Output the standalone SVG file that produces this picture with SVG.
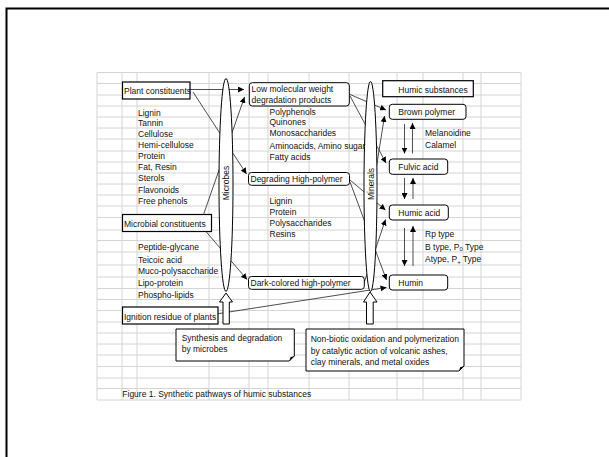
<svg xmlns="http://www.w3.org/2000/svg" width="609" height="457" viewBox="0 0 609 457">
<defs>
<marker id="ah" markerUnits="userSpaceOnUse" markerWidth="7" markerHeight="6" refX="6" refY="3" orient="auto"><path d="M0,0 L6,3 L0,6 z" fill="#000"/></marker>
<style>
.g{stroke:#d4d4d4;stroke-width:1;fill:none}
.t{font-family:"Liberation Sans",Arial,sans-serif;font-size:8.5px;fill:#111}
.c{stroke:#222;stroke-width:0.8;fill:none;marker-end:url(#ah)}
.b{fill:#fff;stroke:#000;stroke-width:1.2}
.r{fill:#fff;stroke:#000;stroke-width:1}
.e{fill:#fff;stroke:#000;stroke-width:1}
</style>
</defs>
<rect x="0" y="0" width="609" height="457" fill="#fff"/>
<rect x="6.5" y="8.5" width="640" height="480" fill="none" stroke="#000" stroke-width="2"/>
<g id="grid" class="g">
<path d="M97,72.5V400M122,72.5V400M137,72.5V400M209,72.5V400M249,72.5V400M268,72.5V400M309,72.5V400M349,72.5V400M397,72.5V400M423,72.5V400M463,72.5V400M481,72.5V400M521,72.5V400"/>
<path d="M97,72.5H521M97,83.5H521M97,95H521M97,106H521M97,117H521M97,128H521M97,139H521M97,151H521M97,162H521M97,173H521M97,184H521M97,195H521M97,206H521M97,217.5H521M97,230H521M97,240.5H521M97,252H521M97,265H521M97,277H521M97,288.5H521M97,299.5H521M97,310.5H521M97,322H521M97,333H521M97,344H521M97,355H521M97,366.5H521M97,378H521M97,388.5H521M97,400H521"/>
</g>
<g id="connectors">
<line class="c" x1="190" y1="89.5" x2="244" y2="89.5"/>
<line class="c" x1="193" y1="92" x2="246.5" y2="174"/>
<line class="c" x1="203" y1="216" x2="244.5" y2="97"/>
<line class="c" x1="203" y1="228" x2="247" y2="279.5"/>
<line class="c" x1="349" y1="94" x2="386" y2="110"/>
<line class="c" x1="350" y1="96" x2="386" y2="163"/>
<line class="c" x1="368" y1="220" x2="384.5" y2="116"/>
<line class="c" x1="350" y1="180" x2="385.5" y2="210"/>
<line class="c" x1="350" y1="182" x2="386.5" y2="280"/>
<line class="c" x1="364" y1="283" x2="385.5" y2="219.5"/>
<line class="c" x1="200" y1="316.5" x2="386.5" y2="287.5"/>
<line class="c" x1="404.5" y1="124" x2="404.5" y2="153.5"/>
<line class="c" x1="412.5" y1="153.5" x2="412.5" y2="123"/>
<line class="c" x1="404.5" y1="178" x2="404.5" y2="199"/>
<line class="c" x1="413" y1="199" x2="413" y2="178"/>
<line class="c" x1="404.5" y1="228" x2="404.5" y2="266"/>
<line class="c" x1="413" y1="266" x2="413" y2="226"/>
</g>
<g id="microbes">
<ellipse class="e" cx="226" cy="185" rx="7" ry="106.5"/>
<text class="t" transform="translate(229,183) rotate(-90)" text-anchor="middle">Microbes</text>
<path class="r" d="M226,293 L232.5,302 H229.3 V324 H223 V302 H219.5 Z"/>
</g>
<g id="minerals">
<ellipse class="e" cx="370.5" cy="186.5" rx="6.5" ry="105"/>
<text class="t" transform="translate(373.5,184) rotate(-90)" text-anchor="middle">Minerals</text>
<path class="r" d="M370,292 L377,302 H373.2 V324 H366.5 V302 H363.5 Z"/>
</g>
<g id="plant">
<rect class="b" x="122.5" y="82" width="67.5" height="17"/>
<text class="t" x="124" y="93.5">Plant constituents</text>
<text class="t" x="138" y="115.7">Lignin</text>
<text class="t" x="138" y="125.7">Tannin</text>
<text class="t" x="138" y="136.5">Cellulose</text>
<text class="t" x="138" y="148">Hemi-cellulose</text>
<text class="t" x="138" y="159">Protein</text>
<text class="t" x="138" y="170.3">Fat, Resin</text>
<text class="t" x="138" y="181.3">Sterols</text>
<text class="t" x="138" y="193">Flavonoids</text>
<text class="t" x="138" y="204">Free phenols</text>
</g>
<g id="microbial">
<rect class="b" x="122.5" y="214.5" width="89" height="17"/>
<text class="t" x="124" y="226.5">Microbial constituents</text>
<text class="t" x="138" y="249.5">Peptide-glycane</text>
<text class="t" x="138" y="263">Teicoic acid</text>
<text class="t" x="138" y="274">Muco-polysaccharide</text>
<text class="t" x="138" y="286">Lipo-protein</text>
<text class="t" x="138" y="298">Phospho-lipids</text>
</g>
<g id="ignition">
<rect class="b" x="122.5" y="307" width="95.5" height="17"/>
<text class="t" x="124" y="319.5">Ignition residue of plants</text>
</g>
<g id="low">
<rect class="r" x="249.3" y="82.7" width="100" height="23.3" rx="3"/>
<text class="t" x="251.5" y="92">Low molecular weight</text>
<text class="t" x="251.5" y="103.3">degradation products</text>
<text class="t" x="269.5" y="114.5">Polyphenols</text>
<text class="t" x="269.5" y="125.2">Quinones</text>
<text class="t" x="269.5" y="136.2">Monosaccharides</text>
<text class="t" x="269.5" y="148.5">Aminoacids, Amino sugar</text>
<text class="t" x="269.5" y="159.5">Fatty acids</text>
</g>
<g id="degrading">
<rect class="r" x="248.5" y="172.5" width="101" height="12.8" rx="3"/>
<text class="t" x="250.5" y="182">Degrading High-polymer</text>
<text class="t" x="269.5" y="204">Lignin</text>
<text class="t" x="269.5" y="215">Protein</text>
<text class="t" x="269.5" y="226.3">Polysaccharides</text>
<text class="t" x="269.5" y="237.3">Resins</text>
</g>
<g id="dark">
<rect class="r" x="248.5" y="276.5" width="115.8" height="12.8" rx="3"/>
<text class="t" x="250.5" y="286">Dark-colored high-polymer</text>
</g>
<g id="humic-substances">
<rect class="b" x="382.7" y="80.7" width="90.6" height="16"/>
<text class="t" x="398.3" y="92.8">Humic substances</text>
</g>
<g id="brown">
<rect class="r" x="389.3" y="104.3" width="76.7" height="15" rx="3"/>
<text class="t" x="398.3" y="115">Brown polymer</text>
<text class="t" x="425" y="136">Melanoidine</text>
<text class="t" x="425" y="148">Calamel</text>
</g>
<g id="fulvic">
<rect class="r" x="389.3" y="159" width="58.4" height="15.3" rx="3"/>
<text class="t" x="398.3" y="170">Fulvic acid</text>
</g>
<g id="humic-acid">
<rect class="r" x="389.3" y="205" width="59" height="15" rx="3"/>
<text class="t" x="398.3" y="215.5">Humic acid</text>
<text class="t" x="425" y="237">Rp type</text>
<text class="t" x="425" y="249.5">B type, P<tspan font-size="6" dy="1.5">0</tspan><tspan dy="-1.5"> Type</tspan></text>
<text class="t" x="425" y="262">Atype, P<tspan font-size="6" dy="1.5">+</tspan><tspan dy="-1.5"> Type</tspan></text>
</g>
<g id="humin">
<rect class="r" x="389.3" y="275" width="58.4" height="15" rx="3"/>
<text class="t" x="398.3" y="285.5">Humin</text>
</g>
<g id="note-synthesis">
<path class="r" d="M176,329 H294.3 V356 L289.3,361 H176 Z"/>
<path d="M289.3,361 L290.5,357.2 L294.3,356 Z" fill="#000"/>
<text class="t" x="181.7" y="341">Synthesis and degradation</text>
<text class="t" x="181.7" y="352">by microbes</text>
</g>
<g id="note-nonbiotic">
<path class="r" d="M306,329 H464 V366 L459,371 H306 Z"/>
<path d="M459,371 L460.2,367.2 L464,366 Z" fill="#000"/>
<text class="t" x="310.7" y="342">Non-biotic oxidation and polymerization</text>
<text class="t" x="310.7" y="354">by catalytic action of volcanic ashes,</text>
<text class="t" x="310.7" y="365.3">clay minerals, and metal oxides</text>
</g>
<text class="t" x="122.3" y="397">Figure 1. Synthetic pathways of humic substances</text>
</svg>
